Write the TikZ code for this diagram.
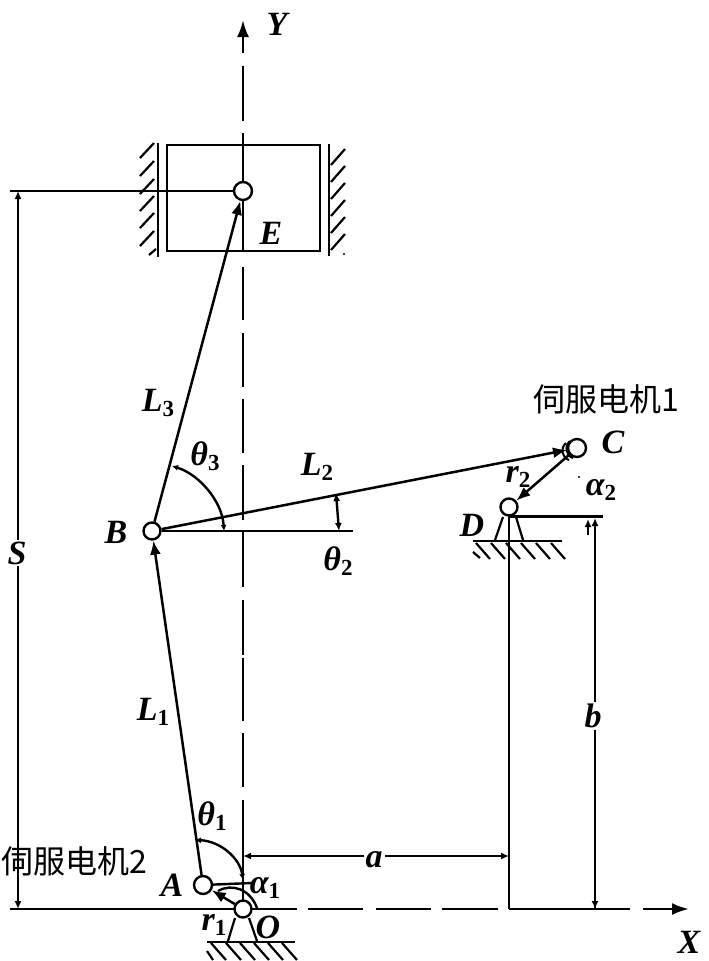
\documentclass[tikz,border=0pt]{standalone}
\usepackage{fontspec}
\setmainfont{Liberation Serif}
\newfontfamily\cjkfont{Noto Sans CJK SC}
\usetikzlibrary{arrows.meta,backgrounds}
\newcommand{\lab}[2]{{\fontsize{34}{36}\selectfont\bfseries\itshape #1}\ifx&#2&\else\raisebox{-5pt}{\fontsize{23}{25}\selectfont\bfseries #2}\fi}
\tikzset{
  pivot/.style={circle,draw,fill=white,inner sep=0pt,minimum size=17pt,line width=2.4pt},
  thinline/.style={line width=2.4pt},
  hatch/.style={line width=2.2pt},
  link/.style={line width=2.5pt,-{Latex[length=14pt,width=11pt]}},
  dimtip/.style={line width=2.4pt,{Latex[length=8pt,width=7pt]}-{Latex[length=8pt,width=7pt]}},
  endtip/.style={line width=2.4pt,-{Latex[length=8pt,width=7pt]}},
  startip/.style={line width=2.4pt,{Latex[length=8pt,width=7pt]}-},
  axisline/.style={line width=2.6pt},
  lbl/.style={inner sep=0pt,outer sep=0pt},
  gaplbl/.style={lbl,fill=white,inner sep=2pt},
  cjk/.style={inner sep=0pt,font=\cjkfont\fontsize{32}{34}\selectfont}
}
\begin{document}
\begin{tikzpicture}[x=1pt,y=-1pt]
\useasboundingbox (0,0) rectangle (709,961);
% pivots
\node[pivot] (O) at (243,909) {};
\node[pivot,minimum size=18pt] (A) at (203,885) {};
\node[pivot] (B) at (152,531) {};
\node[pivot,minimum size=18pt] (C) at (577,448) {};
\node[pivot] (D) at (509,507) {};
\node[pivot,minimum size=18pt] (E) at (243,191) {};
% named free ends
\coordinate (Ytop) at (243,20);
\coordinate (Xend) at (689,909);
\coordinate (Sup) at (18,191);
\coordinate (Sdn) at (18,909);
\coordinate (Sh) at (10,191);
\coordinate (X0) at (10,909);
\coordinate (Dr) at (603,516);
\coordinate (Dl) at (509,516);
\coordinate (Dx) at (509,909);
\coordinate (Bx) at (353,531);
\coordinate (A2) at (252,883);
\begin{scope}[on background layer]
% axes
\draw[axisline,-{Latex[length=17pt,width=12pt]}] (243,53) -- (Ytop);
\foreach \a/\b in {66/121,133/252,267/320,333/387,399/453,465/520,531/587,600/655,658/721,733/787,800/909}
  \draw[axisline] (243,\a) -- (243,\b);
\foreach \a/\b in {10/297,308/363,376/431,442/498,509/630}
  \draw[axisline] (\a,909) -- (\b,909);
\draw[axisline,-{Latex[length=17pt,width=12pt]}] (643,909) -- (Xend);
% slider and walls
\draw[line width=2.5pt] (167,145) rectangle (320,251);
\draw[line width=2.6pt] (158,143) -- (158,257);
\draw[line width=2.6pt] (329,144) -- (329,256);
\foreach \y in {158,176,194,211,228,246}
  \draw[hatch] (140,\y) -- (154,\y-15);
\draw[hatch] (149,255) -- (156,249);
\foreach \y in {165,182,199,216,233,250}
  \draw[hatch] (331,\y) -- (345,\y-16);
% links
\draw[link] (O) -- (A);
\draw[link] (A) -- (B);
\draw[link] (B) -- (E);
\draw[link] (B) -- (C);
\draw[link] (C) -- (D);
% E / S dimension
\draw[thinline] (E) -- (Sh);
\draw[dimtip] (Sup) -- (Sdn);
% a dimension and D lines
\draw[thinline] (A) -- (A2);
\draw[line width=3pt] (Dl) -- (Dr);
\draw[line width=2.6pt] (Dl) -- (Dx);
\draw[dimtip] (243,856) -- (509,856);
\draw[thinline,{Latex[length=8pt,width=7pt]}-] (595,518) -- (595,909);
\draw[endtip] (595,890) -- (595,909);
\draw[startip] (588,519) -- (588,535);
% theta 2
\draw[thinline] (B) -- (Bx);
\draw[dimtip] (336,493) -- (339,531);
% angle arcs
\draw[thinline,{Latex[length=6pt,width=6pt]}-{Latex[length=6pt,width=6pt]}] (172,466) .. controls (198,474) and (222,500) .. (224,531);
\draw[thinline,{Latex[length=6pt,width=6pt]}-{Latex[length=6pt,width=6pt]}] (195,840) .. controls (220,841) and (240,858) .. (243,880);
\draw[thinline] (257,908) .. controls (250,889) and (232,883) .. (218,891);
% supports
\draw[hatch] (235,918) -- (228,941);
\draw[hatch] (249,918) -- (257,941);
\draw[line width=2.6pt] (207,942) -- (295,942);
\foreach \x in {211,226,240,254,268,282}
  \draw[hatch] (\x,943) -- (\x+15,960);
\draw[hatch] (207,951) -- (213,960);
\draw[hatch] (503,517) -- (495,540);
\draw[hatch] (516,517) -- (523,540);
\draw[line width=2.6pt] (473,541) -- (562,541);
\foreach \x in {476,491,506,521,536,551}
  \draw[hatch] (\x,543) -- (\x+14,559);
\draw[hatch] (473,552) -- (480,558);
% second bearing outline at C
\draw[line width=2pt] (566,443) .. controls (560,448) and (562,458) .. (569,460);
\draw[line width=2pt] (570,441) .. controls (564,446) and (566,456) .. (573,458);
\end{scope}
% specks
\fill (579,477) circle (1.2pt);
\fill (344,254) circle (1.2pt);
% labels
\node[lbl] (tY) at (277,24) {\lab{Y}{}};
\node[lbl] (tE) at (271,233) {\lab{E}{}};
\node[lbl] (tL3) at (158,403) {\lab{L}{3}};
\node[lbl] (tT3) at (205,456) {\lab{θ}{3}};
\node[lbl] (tL2) at (317,467) {\lab{L}{2}};
\node[lbl] (tT2) at (338,561) {\lab{θ}{2}};
\node[lbl] (tB) at (116,532) {\lab{B}{}};
\node[gaplbl] (tS) at (17,553) {\lab{S}{}};
\node[lbl] (tr2) at (518,477) {\lab{r}{2}};
\node[lbl] (tC) at (613,442) {\lab{C}{}};
\node[lbl] (tD) at (472,525) {\lab{D}{}};
\node[lbl] (ta2) at (601,490) {\lab{α}{2}};
\node[gaplbl] (tb) at (593,716) {\lab{b}{}};
\node[gaplbl] (ta) at (374,860) {\lab{a}{}};
\node[lbl] (tL1) at (153,712) {\lab{L}{1}};
\node[lbl] (tT1) at (212,816) {\lab{θ}{1}};
\node[lbl] (tA) at (172,885) {\lab{A}{}};
\node[lbl] (ta1) at (265,888) {\lab{α}{1}};
\node[lbl] (tr1) at (214,925) {\lab{r}{1}};
\node[lbl] (tO) at (268,927) {\lab{O}{}};
\node[lbl] (tX) at (689,942) {\lab{X}{}};
\node[cjk] (m1) at (606,399) {伺服电机1};
\node[cjk] (m2) at (74,861) {伺服电机2};
\end{tikzpicture}
\end{document}
